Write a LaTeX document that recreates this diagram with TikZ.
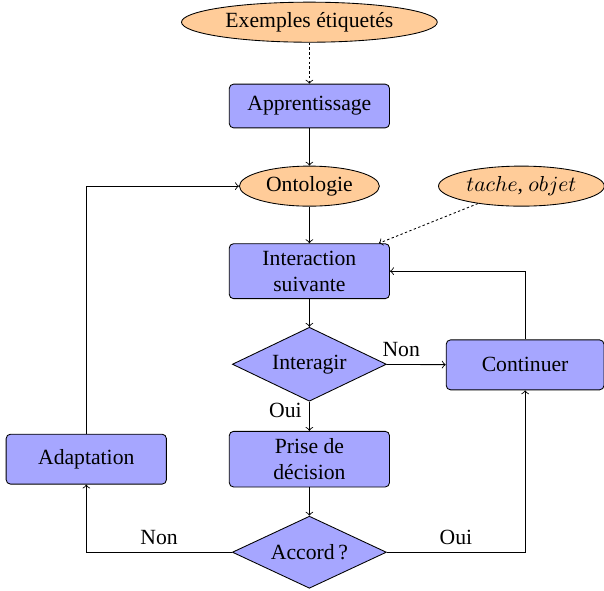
\documentclass[tikz,border=0pt]{standalone}
\usepackage{fontspec}
\setmainfont{Liberation Serif}
\usepackage{tikz}
\usetikzlibrary{shapes.geometric}
\usepackage{xcolor}

\begin{document}
\begin{tikzpicture}[
    bloc/.style={draw,fill=blue!35,rounded corners=2pt,align=center,minimum width=2.6cm,minimum height=0.71cm},
    donnee/.style={draw,ellipse,fill=orange!40,minimum height=0.65cm,inner sep=1pt},
    decision/.style={draw,diamond,fill=blue!35,aspect=2,minimum width=2.5cm,minimum height=1.2cm,inner sep=0pt},
    pointille/.style={dash pattern=on 1.1pt off 1.1pt}]

    \useasboundingbox (0,0) rectangle (9.80,-9.58);

    \node[donnee,minimum width=4.15cm] (ExEt) at (5.02,-0.36) {Exemples étiquetés};
    \node[bloc] (Ap) at (5.02,-1.72) {Apprentissage};
    \node[donnee,minimum width=2.27cm] (On) at (5.02,-3.02) {Ontologie};
    \node[donnee,minimum width=2.69cm] (TaOb) at (8.46,-3.02) {$tache$, $objet$};

    \node[bloc,minimum height=0.81cm] (InSu) at (5.02,-4.40) {Interaction\\suivante};
    \node[decision] (In) at (5.02,-5.91) {Interagir};
    \node[bloc,minimum width=2.56cm,minimum height=0.81cm] (Co) at (8.52,-5.92) {Continuer};

    \node[bloc,minimum height=0.81cm] (PrDe) at (5.02,-7.45) {Prise de\\décision};
    \node[decision,minimum height=1.17cm] (Ac) at (5.02,-8.96) {Accord\,?};
    \node[bloc,minimum height=0.81cm] (Ad) at (1.40,-7.45) {Adaptation};

    \draw[->,pointille] (ExEt) to (Ap);
    \draw[->] (Ap) to (On);
    \draw[->] (On) to (InSu);
    \draw[->,pointille] (TaOb) to ([xshift=-0.18cm]InSu.north east);
    \draw[->] (InSu) to (In);

    \draw[->] (In) to node[above,pos=0.25] {Non} (Co);
    \draw[->] (In) to node[left,pos=0.3] {Oui} (PrDe);
    \draw[->] (Co.north) |- (InSu.east);

    \draw[->] (PrDe) to (Ac);
    \draw[->] (Ac.east) -| node[above,pos=0.25] {Oui} (Co.south);
    \draw[->] (Ac.west) -| node[above,pos=0.25] {Non} (Ad.south);
    \draw[->] (Ad.north) |- (On.west);

\end{tikzpicture}
\end{document}
